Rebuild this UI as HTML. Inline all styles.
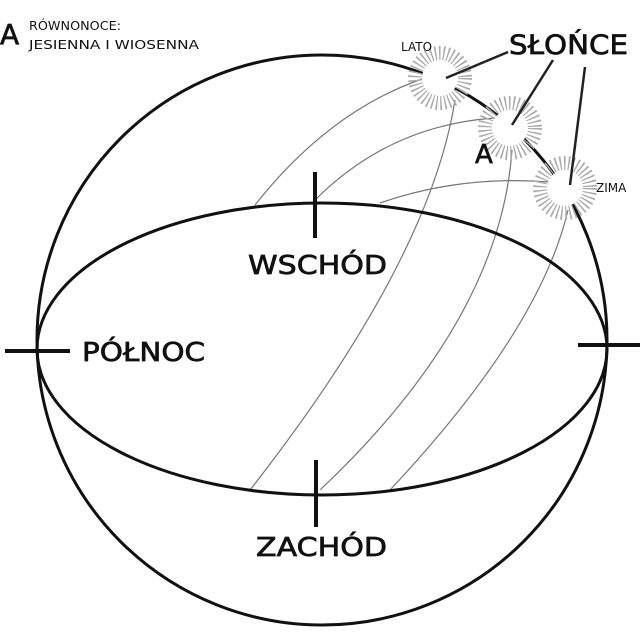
<!DOCTYPE html>
<html><head><meta charset="utf-8"><style>
html,body{margin:0;padding:0;background:#fff;}
svg{display:block;}
text{font-family:"DejaVu Sans","Liberation Sans",sans-serif;fill:#111;}
.b{stroke:#111;stroke-width:0.7;}
</style></head><body>
<svg width="640" height="637" viewBox="0 0 640 637" xmlns="http://www.w3.org/2000/svg">
<g fill="none" stroke="#777" stroke-width="1.2">
<path d="M255,205 Q330,110 425,78"/>
<path d="M455,100 Q430,260 250,490"/>
<path d="M315,200 Q390,125 495,118"/>
<path d="M512,150 Q500,320 320,490"/>
<path d="M380,203 Q460,175 550,182"/>
<path d="M568,210 Q540,330 390,490"/>
</g>
<g fill="none" stroke="#111" stroke-width="3">
<circle cx="322" cy="340" r="285"/>
<ellipse cx="322" cy="349" rx="285" ry="146"/>
</g>
<g stroke="#111" stroke-width="4">
<line x1="315" y1="172" x2="315" y2="238"/>
<line x1="316" y1="460" x2="316" y2="527"/>
<line x1="5" y1="351" x2="70" y2="351"/>
<line x1="578" y1="345" x2="640" y2="345"/>
</g>
<g>
<circle cx="440" cy="78" r="24" fill="none" stroke="#aaa" stroke-width="16" stroke-dasharray="1.4 2.6"/>
<circle cx="440" cy="78" r="18" fill="#fff"/>
<circle cx="510" cy="128" r="24" fill="none" stroke="#aaa" stroke-width="16" stroke-dasharray="1.4 2.6"/>
<circle cx="510" cy="128" r="18" fill="#fff"/>
<circle cx="565" cy="188" r="24" fill="none" stroke="#aaa" stroke-width="16" stroke-dasharray="1.4 2.6"/>
<circle cx="565" cy="188" r="18" fill="#fff"/>
</g>
<g stroke="#222" stroke-width="2.5">
<line x1="446" y1="78" x2="508" y2="52"/>
<line x1="512" y1="125" x2="553" y2="60"/>
<line x1="570" y1="185" x2="585" y2="67"/>
</g>
<text class="b" x="0" y="44" font-size="28">A</text>
<text x="29" y="30" font-size="12.5" textLength="92" lengthAdjust="spacingAndGlyphs">RÓWNONOCE:</text>
<text x="29" y="49" font-size="12.5" textLength="170" lengthAdjust="spacingAndGlyphs">JESIENNA I WIOSENNA</text>
<text x="401" y="51" font-size="12">LATO</text>
<text x="596" y="192" font-size="12">ZIMA</text>
<text class="b" x="475" y="163" font-size="26">A</text>
<text class="b" x="509" y="54" font-size="27" textLength="119" lengthAdjust="spacingAndGlyphs">SŁOŃCE</text>
<text class="b" x="248" y="274" font-size="26" textLength="139" lengthAdjust="spacingAndGlyphs">WSCHÓD</text>
<text class="b" x="82" y="361" font-size="26" textLength="123" lengthAdjust="spacingAndGlyphs">PÓŁNOC</text>
<text class="b" x="256" y="556" font-size="26" textLength="131" lengthAdjust="spacingAndGlyphs">ZACHÓD</text>
</svg>
</body></html>
